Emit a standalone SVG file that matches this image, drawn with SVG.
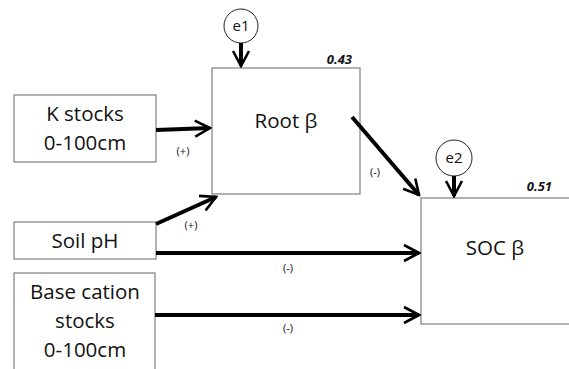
<svg xmlns="http://www.w3.org/2000/svg" width="569" height="369" viewBox="0 0 569 369">
<defs>
<style>
.box{fill:#fff;stroke:#7f7f7f;stroke-width:1.2}
.t{font-family:"Open Sans","Noto Sans",sans-serif;font-size:20.5px;fill:#111;text-anchor:middle}
.s{font-family:"Open Sans","Noto Sans",sans-serif;font-size:11px;fill:#111;text-anchor:middle}
.r{font-family:"Open Sans","Noto Sans",sans-serif;font-size:13px;font-weight:bold;font-style:italic;fill:#111;text-anchor:end}
.e{font-family:"Open Sans","Noto Sans",sans-serif;font-size:15px;fill:#111;text-anchor:middle}
.c{fill:#fff;stroke:#222;stroke-width:1}
.a{stroke:#000;stroke-width:4;fill:none;marker-end:url(#ah)}
</style>
<marker id="ah" viewBox="0 0 10 10" refX="9" refY="5" markerWidth="5" markerHeight="5" orient="auto" markerUnits="strokeWidth">
<path d="M1.5,1 L9,5 L1.5,9" fill="none" stroke="#000" stroke-width="1.3" stroke-linejoin="miter"/>
</marker>
</defs>
<g id="k-stocks"><rect class="box" x="14" y="95" width="142" height="67"/><text class="t" x="85" y="121">K stocks</text><text class="t" x="85" y="150">0-100cm</text></g>
<g id="soil-ph"><rect class="box" x="14" y="222" width="142" height="37"/><text class="t" x="85" y="248">Soil pH</text></g>
<g id="base-cation"><rect class="box" x="14" y="273" width="141" height="110"/><text class="t" x="85" y="299">Base cation</text><text class="t" x="85" y="328">stocks</text><text class="t" x="85" y="357">0-100cm</text></g>
<g id="root"><rect class="box" x="212" y="68" width="148" height="126"/><text class="t" x="286" y="128">Root β</text><text class="r" x="352" y="64">0.43</text></g>
<g id="soc"><rect class="box" x="421" y="198" width="160" height="126"/><text class="t" x="495" y="255">SOC β</text><text class="r" x="552" y="191">0.51</text></g>
<g id="e1"><circle class="c" cx="241" cy="26" r="17"/><text class="e" x="241" y="31">e1</text></g>
<g id="e2"><circle class="c" cx="454" cy="158" r="18"/><text class="e" x="454" y="163">e2</text></g>
<g id="connectors">
<line class="a" x1="241" y1="43" x2="241" y2="66"/>
<line class="a" x1="454" y1="176" x2="454" y2="196"/>
<line class="a" x1="156" y1="130" x2="210" y2="128"/>
<line class="a" x1="352" y1="117" x2="419" y2="195"/>
<line class="a" x1="156" y1="224" x2="216" y2="197"/>
<line class="a" x1="156" y1="253" x2="419" y2="253"/>
<line class="a" x1="155" y1="315" x2="419" y2="315"/>
<text class="s" x="183" y="155">(+)</text>
<text class="s" x="375" y="176">(-)</text>
<text class="s" x="191" y="229">(+)</text>
<text class="s" x="288" y="272">(-)</text>
<text class="s" x="288" y="332">(-)</text>
</g>
</svg>
